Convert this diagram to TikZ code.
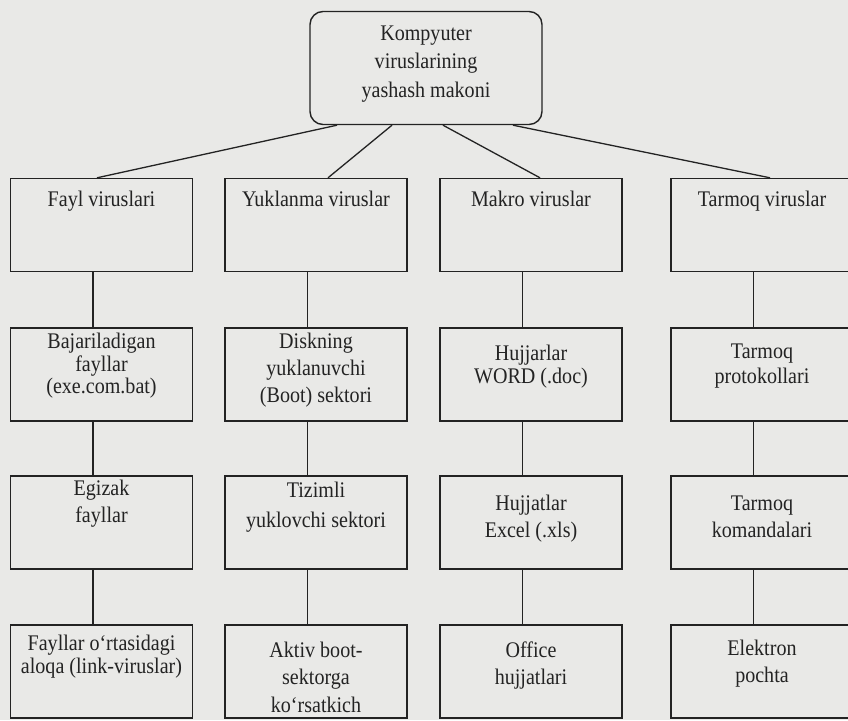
\documentclass[tikz,border=0pt]{standalone}
\usepackage{fontspec}
\setmainfont{Liberation Serif}[FakeStretch=0.9]
\definecolor{paper}{RGB}{233,233,231}
\definecolor{ink}{RGB}{35,35,35}
\begin{document}
\begin{tikzpicture}[x=1pt,y=-1pt,
  box/.style={draw=ink, line width=1.4pt, minimum width=182, minimum height=93, inner sep=0},
  root/.style={box, rounded corners=13, minimum width=232, minimum height=113},
  txt/.style={anchor=north, align=center, inner sep=0, text=ink, font=\fontsize{22.3}{#1}\selectfont},
  txt/.default=25,
  link/.style={draw=ink, line width=1.3pt}]
\useasboundingbox (0,0) rectangle (848,720);
\fill[paper] (0,0) rectangle (848,720);
\clip (0,0) rectangle (848,720);

% root
\node[root] (top) at (426,68) {};
\node[txt=28.5] (topt) at (426,20.05) {\strut Kompyuter\\viruslarining\\yashash makoni};

% row 1
\node[box] (f1) at (101.5,225) {};
\node[box] (y1) at (316,225) {};
\node[box] (m1) at (531,225) {};
\node[box] (t1) at (762,225) {};
\node[txt] (f1t) at (101.5,188.5) {\strut Fayl viruslari};
\node[txt] (y1t) at (316,188.5) {\strut Yuklanma viruslar};
\node[txt] (m1t) at (531,188.5) {\strut Makro viruslar};
\node[txt] (t1t) at (762,188.5) {\strut Tarmoq viruslar};

% row 2
\node[box] (f2) at (101.5,374.5) {};
\node[box] (y2) at (316,374.5) {};
\node[box] (m2) at (531,374.5) {};
\node[box] (t2) at (762,374.5) {};
\node[txt=21.5] (f2t) at (101.5,332.95) {\strut Bajariladigan\\fayllar\\(exe.com.bat)};
\node[txt=27] (y2t) at (316,329.1) {\strut Diskning\\yuklanuvchi\\(Boot) sektori};
\node[txt=23] (m2t) at (531,343.9) {\strut Hujjarlar\\WORD (.doc)};
\node[txt=25] (t2t) at (762,340.5) {\strut Tarmoq\\protokollari};

% row 3
\node[box] (f3) at (101.5,522.5) {};
\node[box] (y3) at (316,522.5) {};
\node[box] (m3) at (531,522.5) {};
\node[box] (t3) at (762,522.5) {};
\node[txt=27] (f3t) at (101.5,476.1) {\strut Egizak\\fayllar};
\node[txt=30] (y3t) at (316,476) {\strut Tizimli\\yuklovchi sektori};
\node[txt=27] (m3t) at (531,491.1) {\strut Hujjatlar\\Excel (.xls)};
\node[txt=27] (t3t) at (762,491.1) {\strut Tarmoq\\komandalari};

% row 4
\node[box] (f4) at (101.5,671.5) {};
\node[box] (y4) at (316,671.5) {};
\node[box] (m4) at (531,671.5) {};
\node[box] (t4) at (762,671.5) {};
\node[txt=22] (f4t) at (101.5,634.6) {\strut Fayllar o‘rtasidagi\\aloqa (link-viruslar)};
\node[txt=27.5] (y4t) at (316,637.75) {\strut Aktiv boot-\\sektorga\\ko‘rsatkich};
\node[txt=27] (m4t) at (531,638.1) {\strut Office\\hujjatlari};
\node[txt=27] (t4t) at (762,636.1) {\strut Elektron\\pochta};

% root to first row
\draw[link] ([xshift=-89]top.south) -- ([xshift=-4.5]f1.north);
\draw[link] ([xshift=-34]top.south) -- ([xshift=12]y1.north);
\draw[link] ([xshift=17]top.south) -- ([xshift=9]m1.north);
\draw[link] ([xshift=87]top.south) -- ([xshift=8]t1.north);

% columns
\foreach \c in {f,y,m,t}{
  \draw[link] ([xshift=-8.5]\c1.south) -- ([xshift=-8.5]\c2.north);
  \draw[link] ([xshift=-8.5]\c2.south) -- ([xshift=-8.5]\c3.north);
  \draw[link] ([xshift=-8.5]\c3.south) -- ([xshift=-8.5]\c4.north);
}
\end{tikzpicture}
\end{document}
